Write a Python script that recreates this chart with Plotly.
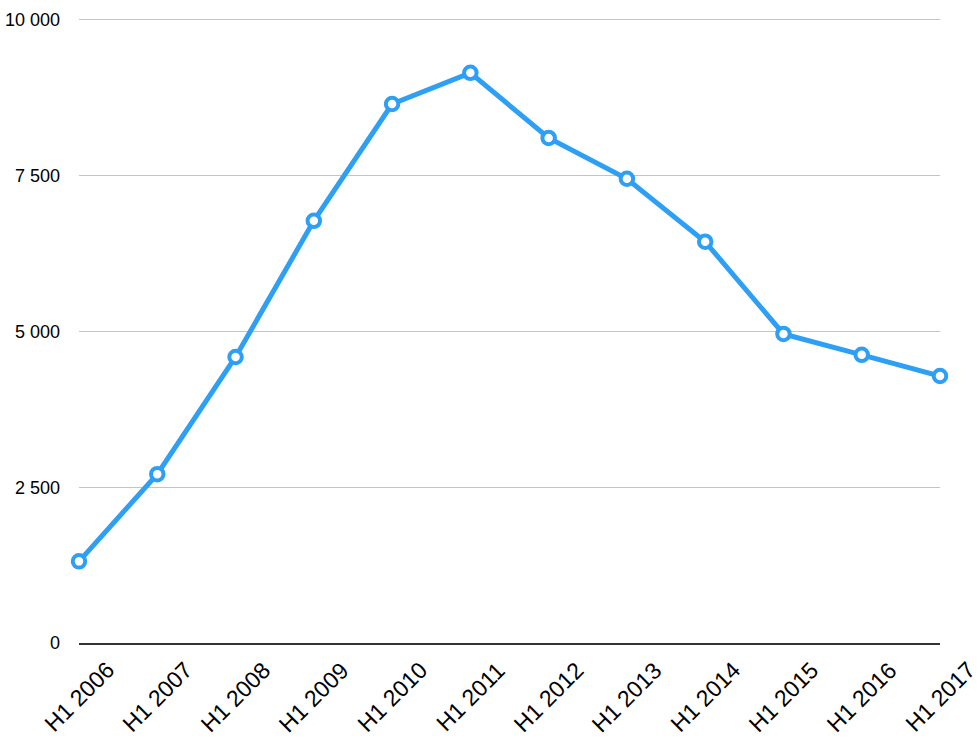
import plotly.graph_objects as go

categories = ["H1 2006", "H1 2007", "H1 2008", "H1 2009", "H1 2010", "H1 2011",
              "H1 2012", "H1 2013", "H1 2014", "H1 2015", "H1 2016", "H1 2017"]
values = [1310, 2710, 4590, 6775, 8650, 9150, 8105, 7450, 6440, 4960, 4625, 4285]
y_ticks = [0, 2500, 5000, 7500, 10000]
y_tick_labels = ["0", "2 500", "5 000", "7 500", "10 000"]

blue = "#2d9ff4"
xs = list(range(len(categories)))

fig = go.Figure(go.Scatter(
    x=xs, y=values, mode="lines+markers",
    line=dict(color=blue, width=5),
    marker=dict(size=12.5, color="white", line=dict(color=blue, width=4)),
    cliponaxis=False,
))

fig.update_layout(
    width=980, height=742,
    margin=dict(l=79, r=40, t=18, b=99),
    paper_bgcolor="white", plot_bgcolor="white",
    font=dict(family="Liberation Sans, Arial, sans-serif", size=18, color="#000"),
    showlegend=False,
)
for i, cat in zip(xs, categories):
    fig.add_annotation(
        x=i, y=0, xref="x", yref="y", text=cat, showarrow=False,
        textangle=-45, xanchor="center", yanchor="middle", yshift=-54,
        font=dict(size=23, color="#000"),
    )
fig.update_xaxes(
    tickmode="array", tickvals=xs, showticklabels=False,
    range=[0, len(categories) - 1], showgrid=False,
    showline=True, linecolor="#333", linewidth=1.5, zeroline=False, ticks="",
    automargin=False,
)
fig.update_yaxes(
    tickmode="array", tickvals=y_ticks, ticktext=y_tick_labels, range=[0, 10030],
    showgrid=True, gridcolor="#c4c4c4", gridwidth=1, zeroline=False,
    showline=False, ticks="", ticklabelstandoff=18, automargin=False,
    tickfont=dict(size=18),
)

fig.write_html("out.html", config={"displayModeBar": False},
               post_script="document.body.style.margin='0';")
